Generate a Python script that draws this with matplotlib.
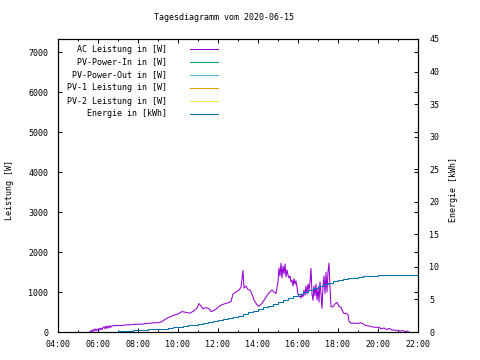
import matplotlib
matplotlib.use("Agg")
import matplotlib.pyplot as plt
from matplotlib.lines import Line2D
from matplotlib.ticker import MultipleLocator

plt.rcParams['font.family'] = 'DejaVu Sans Mono'
plt.rcParams['font.size'] = 6

# AC power (hours, W)
ac_time = [5.60, 5.65, 5.70, 5.75, 5.80, 5.85, 5.90, 5.95, 6.00, 6.05, 6.10, 6.15, 6.20, 6.25,
           6.30, 6.35, 6.40, 6.45, 6.50, 6.55, 6.60, 6.65, 6.70, 6.80, 7.00, 7.20, 7.40, 7.60,
           7.80, 8.00, 8.20, 8.40, 8.60, 8.80, 9.00, 9.20, 9.40, 9.60, 9.80, 10.00, 10.20, 10.40,
           10.60, 10.80, 10.95, 11.05, 11.15, 11.25, 11.40, 11.55, 11.65, 11.80, 11.95, 12.10,
           12.30, 12.50, 12.65, 12.75, 12.90, 13.05, 13.15, 13.25, 13.30, 13.40, 13.50, 13.60,
           13.70, 13.80, 13.95, 14.05, 14.20, 14.35, 14.50, 14.60, 14.70, 14.80, 14.90, 15.00,
           15.05, 15.10, 15.15, 15.20, 15.25, 15.30, 15.35, 15.40, 15.45, 15.50, 15.55, 15.60,
           15.65, 15.70, 15.75, 15.80, 15.85, 15.90, 15.95, 16.00, 16.05, 16.10, 16.15, 16.20,
           16.25, 16.30, 16.35, 16.40, 16.45, 16.50, 16.55, 16.60, 16.65, 16.70, 16.75, 16.80,
           16.85, 16.90, 16.95, 17.00, 17.05, 17.10, 17.15, 17.20, 17.25, 17.30, 17.35, 17.40,
           17.45, 17.50, 17.55, 17.60, 17.65, 17.75, 17.85, 17.95, 18.05, 18.15, 18.20, 18.30,
           18.40, 18.50, 18.55, 18.65, 18.80, 19.00, 19.15, 19.30, 19.40, 19.55, 19.70, 19.90,
           20.05, 20.15, 20.30, 20.45, 20.55, 20.70, 20.85, 21.00, 21.10, 21.25, 21.35, 21.45,
           21.55]
ac_power = [0, 40, 0, 60, 20, 80, 30, 70, 40, 90, 50, 100, 60, 110,
            130, 80, 150, 90, 150, 100, 160, 120, 150, 160, 160, 160, 180, 180,
            190, 195, 195, 210, 220, 230, 230, 260, 330, 380, 420, 450, 510, 490,
            470, 530, 600, 710, 650, 580, 610, 580, 510, 540, 590, 660,
            700, 730, 760, 950, 1000, 1050, 1120, 1540, 1100, 1150, 1060, 1050,
            950, 800, 680, 640, 720, 830, 950, 1000, 1050, 1000, 960, 1250,
            1600, 1400, 1720, 1350, 1650, 1450, 1700, 1380, 1550, 1420, 1350, 1400,
            1250, 1300, 1150, 1330, 1200, 1280, 1120, 950, 880, 900, 850, 950,
            880, 1050, 920, 1150, 950, 1200, 1050, 1250, 1590, 950, 790, 1150,
            900, 1200, 800, 1100, 750, 1250, 950, 590, 1150, 1400, 960, 1490,
            1000, 1500, 1720, 1100, 630, 630, 700, 740, 640, 620, 550, 460,
            470, 430, 270, 220, 220, 215, 230, 190, 160, 150, 130, 115,
            120, 80, 100, 60, 90, 50, 45, 40, 20, 35, 10, 25,
            0]

# energy (hours, kWh), 15 min steps
e_time = [6.75, 7.0, 7.25, 7.5, 7.75, 8.0, 8.25, 8.5, 8.75, 9.0, 9.25, 9.5, 9.75, 10.0,
          10.25, 10.5, 10.75, 11.0, 11.25, 11.5, 11.75, 12.0, 12.25, 12.5, 12.75, 13.0,
          13.25, 13.5, 13.75, 14.0, 14.25, 14.5, 14.75, 15.0, 15.25, 15.5, 15.75, 16.0,
          16.25, 16.5, 16.75, 17.0, 17.25, 17.5, 17.75, 18.0, 18.25, 18.5, 18.75, 19.0,
          19.25, 19.5, 19.75, 20.0, 20.25, 20.5, 21.0, 21.5, 22.0]
e_kwh = [0.0, 0.1, 0.15, 0.2, 0.25, 0.3, 0.35, 0.4, 0.4, 0.45, 0.5, 0.6, 0.7, 0.8,
         0.9, 1.0, 1.1, 1.25, 1.35, 1.5, 1.65, 1.8, 1.95, 2.15, 2.3, 2.5,
         2.75, 3.0, 3.25, 3.55, 3.8, 4.05, 4.3, 4.6, 4.9, 5.25, 5.55, 5.9,
         6.2, 6.45, 6.75, 7.0, 7.3, 7.6, 7.8, 7.95, 8.1, 8.25, 8.35, 8.45,
         8.55, 8.6, 8.65, 8.7, 8.75, 8.75, 8.8, 8.8, 8.8]

series = ["AC Leistung in [W]", "PV-Power-In in [W]", "PV-Power-Out in [W]",
          "PV-1 Leistung in [W]", "PV-2 Leistung in [W]", "Energie in [kWh]"]
colors = ["#9400d3", "#009e73", "#56b4e9", "#e69f00", "#f0e442", "#0072b2"]

hour_ticks = [4, 6, 8, 10, 12, 14, 16, 18, 20, 22]
hour_labels = ["04:00", "06:00", "08:00", "10:00", "12:00", "14:00", "16:00",
               "18:00", "20:00", "22:00"]

W, H = 480, 360
LW = 0.75
fig = plt.figure(figsize=(4.8, 3.6), dpi=100)
ax = fig.add_axes([58 / W, 1 - 332 / H, 360 / W, 293 / H])
ax2 = ax.twinx()

ax.plot(ac_time, ac_power, color=colors[0], lw=LW)
for c in colors[1:5]:
    ax.plot([], [], color=c, lw=LW)
ax2.plot(e_time, e_kwh, color=colors[5], lw=LW, drawstyle="steps-post")

ax.set_xlim(4, 22)
ax.set_ylim(0, 7325)
ax2.set_ylim(0, 45)
ax.set_xticks(hour_ticks)
ax.set_xticklabels(hour_labels)
ax.xaxis.set_minor_locator(MultipleLocator(1))
ax.set_yticks(range(0, 8000, 1000))
ax2.set_yticks(range(0, 50, 5))

ax.tick_params(axis="x", which="major", direction="in", length=3, width=0.7, top=True, pad=6)
ax.tick_params(axis="x", which="minor", direction="in", length=1.5, width=0.7, top=True)
ax.tick_params(axis="y", direction="in", length=3, width=0.7, right=True, pad=7)
ax2.tick_params(axis="y", direction="in", length=3, width=0.7, pad=8)
for a in (ax, ax2):
    for s in a.spines.values():
        s.set_linewidth(0.8)

# legend drawn like gnuplot: right-aligned text, sample line after it
for i, (lab, c) in enumerate(zip(series, colors)):
    y = 1 - (49 + 13 * i) / H
    fig.text(167 / W, y, lab, ha="right", va="center")
    fig.add_artist(Line2D([190 / W, 218 / W], [y, y], color=c, lw=LW,
                          transform=fig.transFigure))

fig.text(223.5 / W, 1 - 18 / H, "Tagesdiagramm vom 2020-06-15", ha="center", va="center")
fig.text(10 / W, 1 - 190 / H, "Leistung [W]", rotation=90, ha="center", va="center")
fig.text(453 / W, 1 - 190 / H, "Energie [kWh]", rotation=90, ha="center", va="center")

fig.savefig("out.png", dpi=100)
